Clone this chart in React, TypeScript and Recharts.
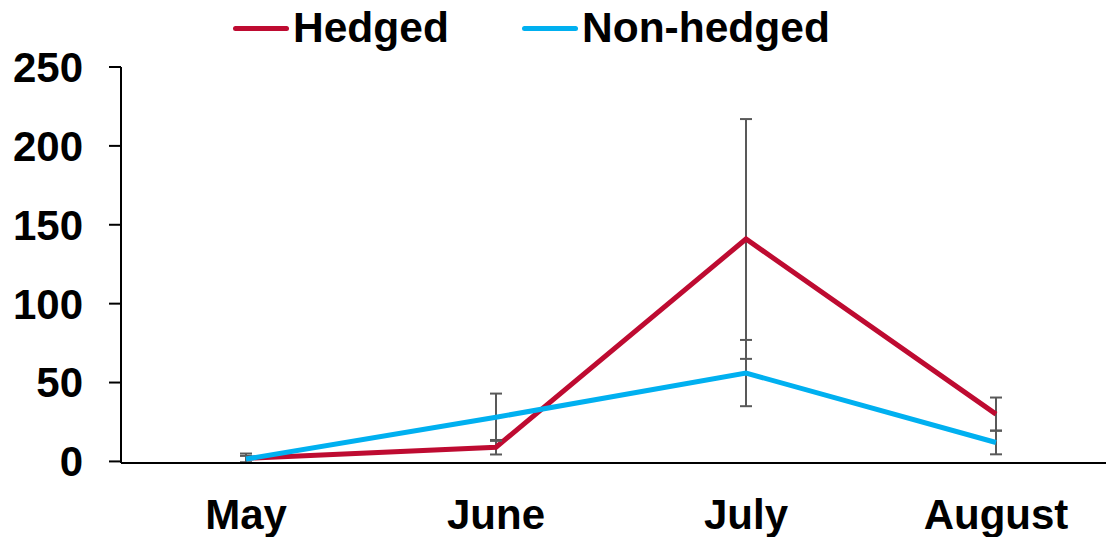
import { LineChart, Line, XAxis, YAxis, ErrorBar } from 'recharts';

const months = ['May', 'June', 'July', 'August'];
const hedged = [2, 9, 141, 30];
const hedgedErr = [3, 4.6, 76, 10.5];
const nonHedged = [1.5, 28, 56, 12];
const nonHedgedErr = [2, 15, 21, 7.5];
const yTicks = [0, 50, 100, 150, 200, 250];

const HEDGED_COLOR = '#BE0B31';
const NON_HEDGED_COLOR = '#00B0F0';
const ERR_COLOR = '#595959';
const FONT = '"Liberation Sans", Arial, sans-serif';

const data = months.map((m, i) => ({
  idx: i,
  month: m,
  hedged: hedged[i],
  hedgedErr: hedgedErr[i],
  nonHedged: nonHedged[i],
  nonHedgedErr: nonHedgedErr[i]
}));

function LegendItem({ color, label, left }: { color: string; label: string; left: number }) {
  return (
    <div style={{ position: 'absolute', left, top: 5, display: 'flex', alignItems: 'center' }}>
      <div style={{ width: 56, height: 5, borderRadius: 3, background: color, marginRight: 4 }} />
      <span style={{ fontFamily: FONT, fontWeight: 700, fontSize: 42.5, color: '#000', lineHeight: '46px' }}>
        {label}
      </span>
    </div>
  );
}

export default function App() {
  return (
    <div style={{ position: 'absolute', left: 0, top: 0, width: 1108, height: 537, background: '#fff' }}>
      <LineChart
        width={1108}
        height={537}
        data={data}
        margin={{ top: 67, right: 2, bottom: 0, left: 0 }}
      >
        <XAxis
          dataKey="idx"
          type="number"
          domain={[-0.5, 3.44]}
          allowDataOverflow
          ticks={[0, 1, 2, 3]}
          tickFormatter={(v: number) => months[v]}
          tickLine={false}
          tickSize={0}
          tickMargin={36}
          height={74}
          axisLine={{ stroke: '#000', strokeWidth: 2 }}
          tick={{ fill: '#000', fontSize: 42, fontWeight: 700, fontFamily: FONT }}
        />
        <YAxis
          domain={[0, 250]}
          ticks={yTicks}
          width={121}
          tickSize={12}
          tickMargin={26}
          axisLine={{ stroke: '#000', strokeWidth: 2 }}
          tickLine={{ stroke: '#000', strokeWidth: 2 }}
          tick={{ fill: '#000', fontSize: 42, fontWeight: 700, fontFamily: FONT }}
        />
        <Line
          dataKey="hedged"
          stroke={HEDGED_COLOR}
          strokeWidth={5}
          dot={false}
          isAnimationActive={false}
        >
          <ErrorBar dataKey="hedgedErr" width={6} stroke={ERR_COLOR} strokeWidth={2} />
        </Line>
        <Line
          dataKey="nonHedged"
          stroke={NON_HEDGED_COLOR}
          strokeWidth={5}
          dot={false}
          isAnimationActive={false}
        >
          <ErrorBar dataKey="nonHedgedErr" width={6} stroke={ERR_COLOR} strokeWidth={2} />
        </Line>
      </LineChart>
      <LegendItem color={HEDGED_COLOR} label="Hedged" left={233} />
      <LegendItem color={NON_HEDGED_COLOR} label="Non-hedged" left={522} />
    </div>
  );
}
